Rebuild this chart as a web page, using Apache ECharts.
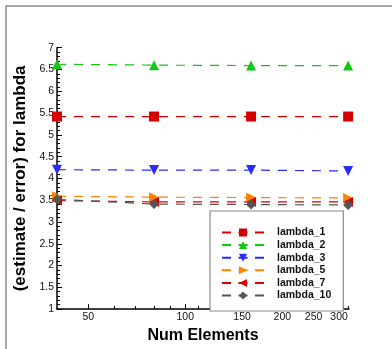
<!DOCTYPE html>
<html>
<head>
<meta charset="utf-8">
<script src="https://cdn.jsdelivr.net/npm/echarts@6/dist/echarts.min.js"></script>
<style>
  html, body { margin: 0; padding: 0; background: #fff; }
  #chart { width: 392px; height: 349px; }
</style>
</head>
<body>
<div id="chart"></div>
<script>
// mesh sizes (Num Elements), plotted on a log scale
const numElements = [40, 80, 160, 320];

const lambda1 = [5.42, 5.42, 5.42, 5.42];
const lambda2 = [6.62, 6.60, 6.59, 6.59];
const lambda3 = [4.20, 4.19, 4.19, 4.17];
const lambda5 = [3.59, 3.57, 3.56, 3.55];
const lambda7 = [3.49, 3.46, 3.46, 3.46];
const lambda10 = [3.52, 3.41, 3.40, 3.39];

const xMajorTicks = [50, 100, 150, 200, 250, 300];
const xMinorTicks = [60, 70, 80, 90, 110, 120, 130, 140, 160, 170, 180, 190,
  210, 220, 230, 240, 260, 270, 280, 290, 310, 320];

const font = 'Liberation Sans, Arial, sans-serif';
const lg = v => Math.log10(v);

function mkSeries(name, vals, color, symbol, rotate) {
  return {
    name: name,
    type: 'line',
    data: numElements.map((n, i) => [lg(n), vals[i]]),
    symbol: symbol,
    symbolRotate: rotate,
    symbolSize: 10,
    clip: false,
    itemStyle: { color: color },
    lineStyle: { color: color, width: 1.2, type: [9, 8] }
  };
}

const Chart = echarts.init(document.getElementById('chart'), null, { renderer: 'canvas' });

const option = {
  animation: false,
  backgroundColor: '#fff',
  textStyle: { fontFamily: font },
  graphic: [{
    type: 'rect',
    shape: { x: 6, y: 6, width: 420, height: 400 },
    style: { fill: 'none', stroke: '#8a8a8a', lineWidth: 1.5 },
    z: -1
  }],
  grid: { left: 57, right: 43, top: 47.7, bottom: 36.3 },
  legend: {
    orient: 'vertical',
    left: 210,
    top: 211,
    padding: [16, 12, 10, 11],
    itemWidth: 42,
    itemHeight: 10,
    itemGap: 1.6,
    backgroundColor: '#fff',
    borderColor: '#8a8a8a',
    borderWidth: 1.2,
    lineStyle: { type: [9, 7.5] },
    textStyle: { fontSize: 10.5, fontWeight: 'bold', color: '#111', padding: [0, 0, 0, 8] },
    data: ['lambda_1', 'lambda_2', 'lambda_3', 'lambda_5', 'lambda_7', 'lambda_10']
  },
  xAxis: [{
    type: 'value',
    min: lg(40),
    max: lg(322),
    name: 'Num Elements',
    nameLocation: 'middle',
    nameGap: 13,
    nameTextStyle: { fontSize: 16, fontWeight: 'bold', color: '#000' },
    axisLine: { lineStyle: { color: '#000', width: 1.5 } },
    axisTick: { inside: true, length: 5, customValues: xMajorTicks.map(lg), lineStyle: { color: '#000' } },
    axisLabel: {
      customValues: xMajorTicks.map(lg),
      margin: 3,
      fontSize: 10.5,
      color: '#111',
      formatter: v => String(Math.round(Math.pow(10, v)))
    },
    splitLine: { show: false }
  }, {
    type: 'value',
    gridIndex: 0,
    position: 'bottom',
    min: lg(40),
    max: lg(322),
    axisLine: { show: false },
    axisTick: { inside: true, length: 3, customValues: xMinorTicks.map(lg), lineStyle: { color: '#000' } },
    axisLabel: { show: false },
    splitLine: { show: false }
  }],
  yAxis: {
    type: 'value',
    min: 1,
    max: 7,
    interval: 0.5,
    name: '(estimate / error) for lambda',
    nameLocation: 'middle',
    nameGap: 28,
    nameTextStyle: { fontSize: 17, fontWeight: 'bold', color: '#000' },
    axisLine: { show: true, lineStyle: { color: '#000', width: 1.5 } },
    axisTick: { inside: true, length: 5, lineStyle: { color: '#000' } },
    minorTick: { show: true, splitNumber: 5, length: 3, lineStyle: { color: '#000' } },
    axisLabel: { margin: 3, fontSize: 10.5, color: '#111' },
    splitLine: { show: false }
  },
  series: [
    mkSeries('lambda_1', lambda1, '#d40000', 'rect', 0),
    mkSeries('lambda_2', lambda2, '#10c810', 'triangle', 0),
    mkSeries('lambda_3', lambda3, '#2a2aff', 'triangle', 180),
    mkSeries('lambda_5', lambda5, '#ff8200', 'triangle', -90),
    mkSeries('lambda_7', lambda7, '#d80000', 'triangle', 90),
    mkSeries('lambda_10', lambda10, '#555555', 'diamond', 0)
  ]
};

Chart.setOption(option);
</script>
</body>
</html>
